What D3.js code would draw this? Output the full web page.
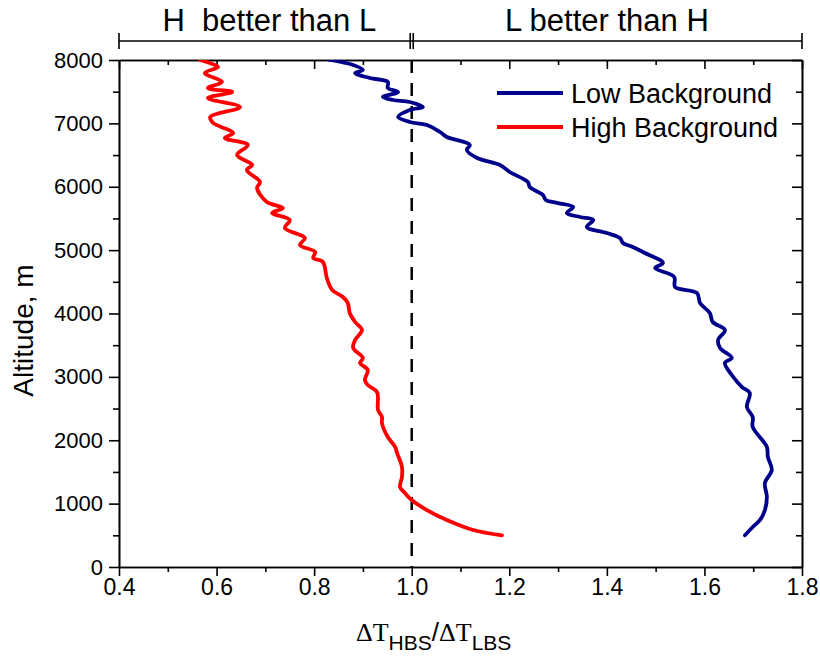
<!doctype html>
<html>
  <head>
    <meta charset="utf-8">
    <title>Altitude ratio</title>
    <script type="text/javascript" src="https://d3js.org/d3.v7.min.js"></script>
    <style>
      body { margin: 0; background: #fff; }
      text { font-family: "Liberation Sans", Arial, sans-serif; }
    </style>
  </head>
  <body>
    <script>
      // altitudes (m) and ratios, top to bottom
      const lowAlt = [8000, 7921, 7842, 7795, 7716, 7653, 7558, 7495, 7416, 7369, 7337, 7258, 7211, 7101, 7022, 6974,
        6864, 6785, 6659, 6580, 6454, 6343, 6233, 6075, 5996, 5870, 5791, 5743, 5680, 5586, 5523, 5475, 5365, 5270,
        5191, 5112, 5049, 4955, 4797, 4718, 4576, 4418, 4323, 4166, 4008, 3866, 3740, 3582, 3456, 3298, 3219, 3030,
        2840, 2746, 2525, 2367, 2209, 1894, 1736, 1531, 1325, 1105, 899, 742, 631, 500];
      const lowVal = [0.832, 0.880, 0.900, 0.884, 0.914, 0.951, 0.951, 0.972, 0.941, 0.962, 0.996, 1.023, 0.996, 0.972, 0.996, 1.031,
        1.058, 1.072, 1.119, 1.113, 1.134, 1.181, 1.201, 1.238, 1.242, 1.269, 1.275, 1.300, 1.331, 1.318, 1.345, 1.372, 1.359, 1.400,
        1.427, 1.433, 1.453, 1.478, 1.515, 1.499, 1.538, 1.540, 1.585, 1.591, 1.611, 1.617, 1.642, 1.628, 1.632, 1.656, 1.642, 1.656,
        1.677, 1.693, 1.687, 1.699, 1.699, 1.728, 1.730, 1.738, 1.724, 1.728, 1.724, 1.714, 1.699, 1.683];

      const highAlt = [8000, 7890, 7796, 7653, 7558, 7495, 7400, 7258, 7101, 7006, 6848, 6769, 6659, 6501, 6343, 6264,
        6075, 5980, 5759, 5665, 5586, 5475, 5349, 5191, 5081, 4970, 4876, 4813, 4560, 4371, 4260, 4166, 4008, 3866,
        3740, 3582, 3456, 3298, 3219, 3108, 2951, 2872, 2761, 2477, 2367, 2272, 2051, 1894, 1799, 1578, 1420, 1262,
        1168, 1057, 899, 742, 584, 500];
      const highVal = [0.566, 0.603, 0.576, 0.611, 0.582, 0.632, 0.582, 0.648, 0.587, 0.593, 0.634, 0.617, 0.664, 0.642, 0.673, 0.662,
        0.689, 0.683, 0.703, 0.736, 0.714, 0.750, 0.740, 0.781, 0.771, 0.802, 0.798, 0.818, 0.826, 0.837, 0.859, 0.869, 0.873, 0.884,
        0.898, 0.884, 0.880, 0.900, 0.894, 0.910, 0.904, 0.910, 0.929, 0.931, 0.939, 0.939, 0.951, 0.966, 0.970, 0.980, 0.980, 0.976,
        0.986, 1.000, 1.031, 1.072, 1.126, 1.185];

      const seriesNames = ['Low Background', 'High Background'];
      const seriesColors = ['#00008b', '#ff0000'];
      const xTicks = [0.4, 0.6, 0.8, 1.0, 1.2, 1.4, 1.6, 1.8];
      const yTicks = [0, 1000, 2000, 3000, 4000, 5000, 6000, 7000, 8000];
      const regionLabels = ['H  better than L', 'L better than H'];

      const svgWidth = 820, svgHeight = 671;
      const mLeft = 119, mRight = 802, mTop = 60, mBottom = 567;

      const svg = d3.select('body').append('svg')
          .attr('width', svgWidth)
          .attr('height', svgHeight);

      const x = d3.scaleLinear().domain([0.4, 1.8]).range([mLeft, mRight]);
      const y = d3.scaleLinear().domain([0, 8000]).range([mBottom, mTop]);

      const xMinor = [0.5, 0.7, 0.9, 1.1, 1.3, 1.5, 1.7];
      const yMinor = [500, 1500, 2500, 3500, 4500, 5500, 6500, 7500];

      // axes: major + minor ticks on all four sides
      function styleAxis(g) {
        g.selectAll('.domain').attr('stroke', '#000').attr('stroke-width', 1.6);
        g.selectAll('.tick line').attr('stroke', '#000').attr('stroke-width', 1.6);
        g.selectAll('.tick text').attr('fill', '#000').style('font-family', '"Liberation Sans", Arial, sans-serif');
      }

      svg.append('g').attr('transform', `translate(0,${mBottom})`)
        .call(d3.axisBottom(x).tickValues(xTicks).tickFormat(d3.format('.1f')).tickSize(9).tickSizeOuter(0).tickPadding(3))
        .call(styleAxis)
        .selectAll('text').attr('font-size', 23);
      svg.append('g').attr('transform', `translate(0,${mBottom})`)
        .call(d3.axisBottom(x).tickValues(xMinor).tickFormat('').tickSize(5).tickSizeOuter(0))
        .call(styleAxis);

      svg.append('g').attr('transform', `translate(0,${mTop})`)
        .call(d3.axisTop(x).tickValues(xTicks).tickFormat('').tickSize(-9).tickSizeOuter(0))
        .call(styleAxis);
      svg.append('g').attr('transform', `translate(0,${mTop})`)
        .call(d3.axisTop(x).tickValues(xMinor).tickFormat('').tickSize(-5).tickSizeOuter(0))
        .call(styleAxis);

      svg.append('g').attr('transform', `translate(${mLeft},0)`)
        .call(d3.axisLeft(y).tickValues(yTicks).tickFormat(d3.format('d')).tickSize(10).tickSizeOuter(0).tickPadding(6))
        .call(styleAxis)
        .selectAll('text').attr('font-size', 22);
      svg.append('g').attr('transform', `translate(${mLeft},0)`)
        .call(d3.axisLeft(y).tickValues(yMinor).tickFormat('').tickSize(6).tickSizeOuter(0))
        .call(styleAxis);

      svg.append('g').attr('transform', `translate(${mRight},0)`)
        .call(d3.axisRight(y).tickValues(yTicks).tickFormat('').tickSize(-10).tickSizeOuter(0))
        .call(styleAxis);
      svg.append('g').attr('transform', `translate(${mRight},0)`)
        .call(d3.axisRight(y).tickValues(yMinor).tickFormat('').tickSize(-6).tickSizeOuter(0))
        .call(styleAxis);

      // clip for the curves
      svg.append('clipPath').attr('id', 'plot')
        .append('rect').attr('x', mLeft).attr('y', mTop).attr('width', mRight - mLeft).attr('height', mBottom - mTop);

      // dashed reference line at ratio 1
      svg.append('line')
        .attr('x1', x(1)).attr('x2', x(1))
        .attr('y1', y(8000)).attr('y2', y(0))
        .attr('stroke', '#000')
        .attr('stroke-width', 2.5)
        .attr('stroke-dasharray', '13,10');

      const line = d3.line()
          .x(d => x(d[1]))
          .y(d => y(d[0]))
          .curve(d3.curveCatmullRom.alpha(0.5));

      const series = [d3.zip(lowAlt, lowVal), d3.zip(highAlt, highVal)];
      svg.append('g').attr('clip-path', 'url(#plot)')
        .selectAll('path')
        .data(series)
        .join('path')
          .attr('d', line)
          .attr('fill', 'none')
          .attr('stroke', (d, i) => seriesColors[i])
          .attr('stroke-width', 3.8)
          .attr('stroke-linejoin', 'round')
          .attr('stroke-linecap', 'round');

      // legend
      const legend = svg.append('g');
      seriesNames.forEach((name, i) => {
        const ly = 93 + i * 34;
        legend.append('line')
          .attr('x1', 497).attr('x2', 563)
          .attr('y1', ly).attr('y2', ly)
          .attr('stroke', seriesColors[i])
          .attr('stroke-width', 3.8);
        legend.append('text')
          .attr('x', 571).attr('y', ly + 10)
          .attr('font-size', 27)
          .text(name);
      });

      // region bracket above the plot
      const bracket = svg.append('g').attr('stroke', '#000').attr('stroke-width', 1.6);
      bracket.append('line').attr('x1', x(0.4)).attr('x2', x(1.8)).attr('y1', 41).attr('y2', 41);
      [x(0.4), x(1) - 1.5, x(1) + 1.5, x(1.8)].forEach(bx => {
        bracket.append('line').attr('x1', bx).attr('x2', bx).attr('y1', 33).attr('y2', 49);
      });
      svg.append('text')
        .attr('x', (x(0.4) + x(1)) / 2 + 4).attr('y', 31)
        .attr('text-anchor', 'middle').attr('font-size', 31)
        .style('white-space', 'pre')
        .text(regionLabels[0]);
      svg.append('text')
        .attr('x', (x(1) + x(1.8)) / 2).attr('y', 31)
        .attr('text-anchor', 'middle').attr('font-size', 31)
        .text(regionLabels[1]);

      // axis titles
      svg.append('text')
        .attr('transform', `translate(33,${(mTop + mBottom) / 2 + 17}) rotate(-90)`)
        .attr('text-anchor', 'middle')
        .attr('font-size', 28)
        .text('Altitude, m');

      const xt = svg.append('text')
        .attr('x', 356).attr('y', 641)
        .attr('font-size', 26);
      const serif = '"Liberation Serif", "Times New Roman", serif';
      xt.append('tspan').style('font-family', serif).text('\u0394T');
      xt.append('tspan').attr('font-size', 21).attr('dy', 9).text('HBS');
      xt.append('tspan').attr('dy', -9).text('/');
      xt.append('tspan').style('font-family', serif).text('\u0394T');
      xt.append('tspan').attr('font-size', 21).attr('dy', 9).text('LBS');
    </script>
  </body>
</html>
